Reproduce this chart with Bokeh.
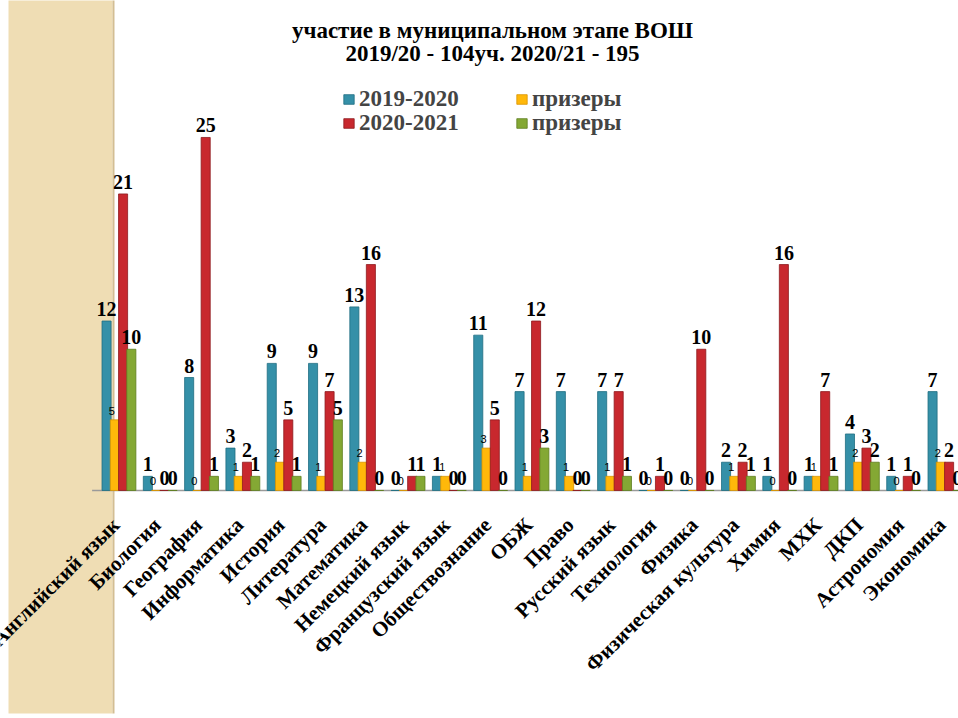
import math
import numpy as np
from bokeh.plotting import figure
from bokeh.models import (Range1d, Legend, LegendItem, ColumnDataSource, BoxAnnotation)
from bokeh.core.properties import value
from bokeh.embed import file_html
from bokeh.resources import INLINE

categories = ["Английский язык", "Биология", "География", "Информатика", "История",
              "Литература", "Математика", "Немецкий язык", "Французский язык",
              "Обществознание", "ОБЖ", "Право", "Русский язык", "Технология", "Физика",
              "Физическая культура", "Химия", "МХК", "ДКП", "Астрономия", "Экономика"]
part_2019 = [12, 1, 8, 3, 9, 9, 13, 0, 1, 11, 7, 7, 7, 0, 0, 2, 1, 1, 4, 1, 7]
prize_2019 = [5, 0, 0, 1, 2, 1, 2, 0, 1, 3, 1, 1, 1, 0, 0, 1, 0, 1, 2, 0, 2]
part_2020 = [21, 0, 25, 2, 5, 7, 16, 1, 0, 5, 12, 0, 7, 1, 10, 2, 16, 7, 3, 1, 2]
prize_2020 = [10, 0, 1, 1, 1, 5, 0, 1, 0, 0, 3, 0, 1, 0, 0, 1, 0, 1, 2, 0, 0]
series_names = ["2019-2020", "призеры", "2020-2021", "призеры"]
title_lines = ["участие в муниципальном этапе ВОШ", "2019/20 - 104уч. 2020/21 - 195"]

colors = ["#3590A8", "#FFB80A", "#C8282E", "#84A834"]
edges = ["#1F6D82", "#D99400", "#8E1A1E", "#5E7D20"]
offsets = [-0.3, -0.1, 0.1, 0.3]
series = [part_2019, prize_2019, part_2020, prize_2020]

SERIF = "Liberation Serif"

# the frame fills the whole canvas; the category axis is drawn as rotated text under y = 0
p = figure(width=958, height=718, output_backend="svg", toolbar_location=None,
           x_range=Range1d(-2.368, 20.828), y_range=Range1d(-16.15, 34.70),
           x_axis_location=None, y_axis_location=None,
           min_border_left=0, min_border_right=0, min_border_top=0, min_border_bottom=0)
p.outline_line_color = None
p.xgrid.grid_line_color = None
p.ygrid.grid_line_color = None
p.background_fill_color = "white"
p.border_fill_color = "white"

# decorative beige strip of the slide (left side)
p.add_layout(BoxAnnotation(left=8, right=112, bottom=-10, top=713,
                           left_units="canvas", right_units="canvas",
                           bottom_units="canvas", top_units="canvas",
                           fill_color="#EFDDB4", fill_alpha=1.0, line_color=None,
                           level="underlay"))
p.add_layout(BoxAnnotation(left=112, right=114, bottom=-10, top=713,
                           left_units="canvas", right_units="canvas",
                           bottom_units="canvas", top_units="canvas",
                           fill_color="#D3BE93", fill_alpha=1.0, line_color=None,
                           level="underlay"))

idx = np.arange(len(categories))
centers = idx + 0.5

# floor / category axis line
p.segment(x0=[centers[0] - 0.65], x1=[centers[-1] + 0.6], y0=[0], y1=[0],
          line_color="#9A9A9A", line_width=1.5)

renderers = []
for k, (vals, col, ec, off) in enumerate(zip(series, colors, edges, offsets)):
    src = ColumnDataSource(dict(x=centers + off, top=vals,
                                lab=[str(v) for v in vals]))
    r = p.vbar(x="x", top="top", width=0.22, bottom=0, source=src,
               fill_color=col, line_color=ec, line_width=0.8)
    renderers.append(r)
    if k == 1:
        p.text(x="x", y="top", text="lab", source=src, text_font=value("Liberation Sans"),
               text_font_size="11px", text_align="center", text_baseline="bottom",
               x_offset=-3, y_offset=-5, text_color="black")
    else:
        p.text(x="x", y="top", text="lab", source=src, text_font=value(SERIF),
               text_font_style="bold", text_font_size="20px", text_align="center",
               text_baseline="bottom", x_offset=0, y_offset=-5, text_color="black")

# category labels (rotated 45 degrees, right end under each group)
cat_src = ColumnDataSource(dict(x=centers, y=np.zeros(len(categories)), name=categories))
p.text(x="x", y="y", text="name", source=cat_src, angle=math.pi / 4,
       text_font=value(SERIF), text_font_style="bold", text_font_size="21px",
       text_align="right", text_baseline="middle", x_offset=-3, y_offset=31,
       text_color="black")

# title
p.text(x=[9.545, 9.545], y=[32.58, 30.95], text=title_lines, text_font=value(SERIF),
       text_font_style="bold", text_font_size="23px", text_align="center",
       text_baseline="middle", text_color="black")

def make_legend(items, loc):
    return Legend(items=items, location=loc, orientation="horizontal",
                  glyph_width=13, glyph_height=12, label_standoff=4, label_width=155,
                  label_height=22, spacing=1, padding=0, margin=0,
                  label_text_font=SERIF, label_text_font_style="bold",
                  label_text_font_size="23px", border_line_color=None,
                  background_fill_alpha=0)

items = [LegendItem(label=n, renderers=[r]) for n, r in zip(series_names, renderers)]
p.add_layout(make_legend([items[0], items[1]], (342, 606)))
p.add_layout(make_legend([items[2], items[3]], (342, 582)))

open("out.html", "w").write(file_html(p, INLINE))
